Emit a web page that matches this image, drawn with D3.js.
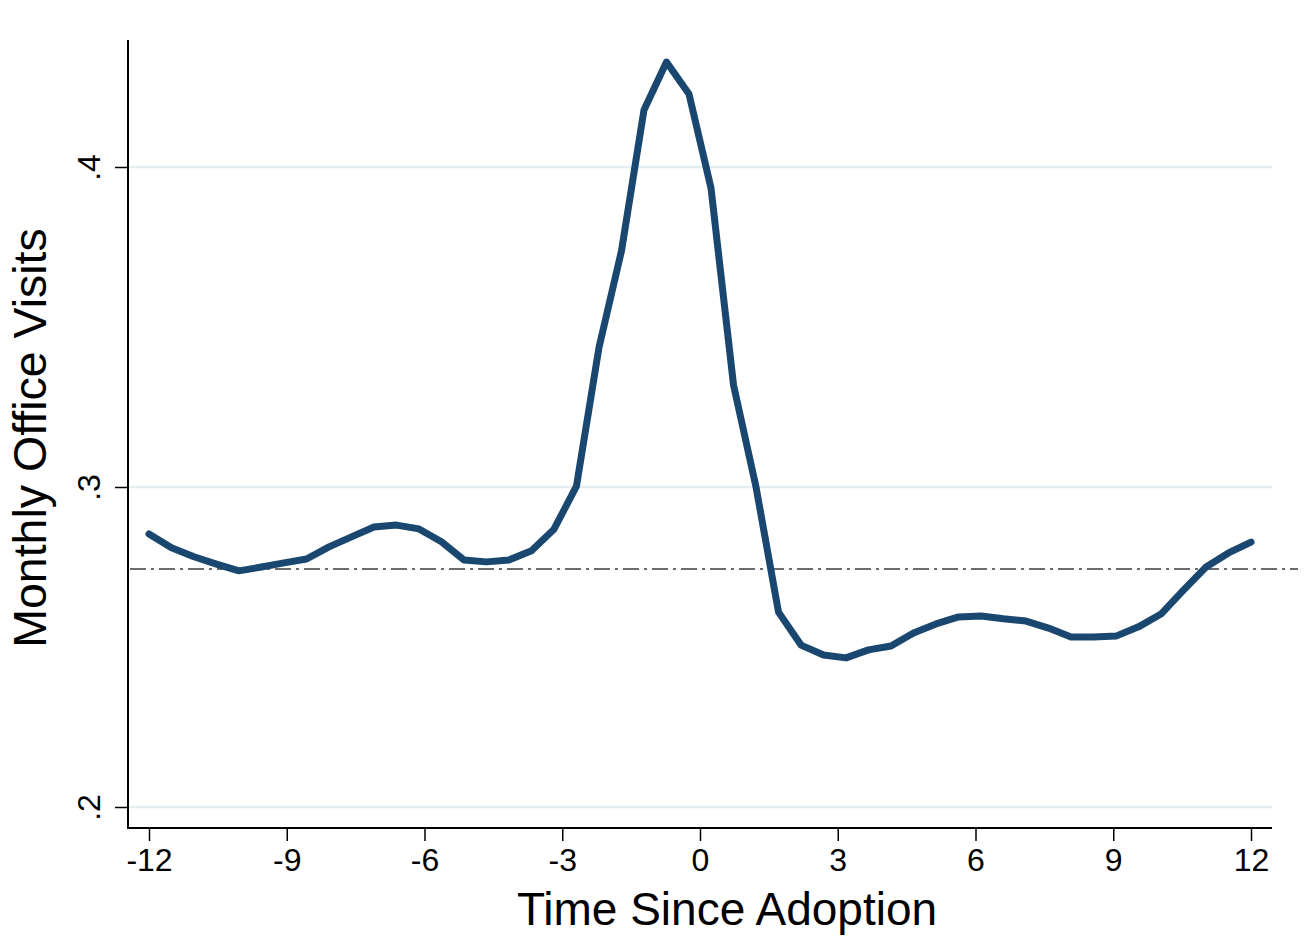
<!DOCTYPE html>
<html>
<head>
<meta charset="utf-8">
<script src="https://cdn.jsdelivr.net/npm/d3@7"></script>
<style>
  html, body { margin: 0; padding: 0; background: #ffffff; }
  svg { display: block; }
  text { font-family: "Liberation Sans", Arial, sans-serif; fill: #000; }
</style>
</head>
<body>
<svg id="chart" width="1305" height="937"></svg>
<script>
// ---- data ----
const months = [
  -12.00, -11.51, -11.02, -10.53, -10.04, -9.55, -9.06, -8.57, -8.08, -7.59,
  -7.10, -6.61, -6.12, -5.63, -5.14, -4.65, -4.16, -3.67, -3.18, -2.69,
  -2.20, -1.71, -1.22, -0.73, -0.24, 0.24, 0.73, 1.22, 1.71, 2.20,
  2.69, 3.18, 3.67, 4.16, 4.65, 5.14, 5.63, 6.12, 6.61, 7.10,
  7.59, 8.08, 8.57, 9.06, 9.55, 10.04, 10.53, 11.02, 11.51, 12.00
];
const visits = [
  0.2853, 0.2810, 0.2782, 0.2759, 0.2738, 0.2750, 0.2763, 0.2775, 0.2813, 0.2844,
  0.2875, 0.2881, 0.2869, 0.2829, 0.2772, 0.2766, 0.2772, 0.2801, 0.2868, 0.3003,
  0.3436, 0.3738, 0.4178, 0.4328, 0.4228, 0.3934, 0.3319, 0.3000, 0.2609, 0.2506,
  0.2475, 0.2466, 0.2491, 0.2503, 0.2544, 0.2572, 0.2594, 0.2597, 0.2588, 0.2581,
  0.2559, 0.2531, 0.2531, 0.2534, 0.2563, 0.2603, 0.2678, 0.2750, 0.2794, 0.2828
];
const xTicks = [-12, -9, -6, -3, 0, 3, 6, 9, 12];
const yTicks = [0.2, 0.3, 0.4];
const yTickLabels = [".2", ".3", ".4"];
const refLine = 0.2744;
const xTitle = "Time Since Adoption";
const yTitle = "Monthly Office Visits";

// ---- layout ----
const svg = d3.select("#chart");
const plotLeft = 128, plotRight = 1272, plotTop = 40, plotBottom = 828;

const x = d3.scaleLinear().domain([-12, 12]).range([149, 1251]);
const y = d3.scaleLinear().domain([0.2, 0.4]).range([807, 167]);

// gridlines
svg.append("g").selectAll("line").data(yTicks).join("line")
  .attr("x1", plotLeft).attr("x2", plotRight)
  .attr("y1", d => y(d)).attr("y2", d => y(d))
  .attr("stroke", "#e4eef0").attr("stroke-width", 2.5);

// reference line (dash-dot)
svg.append("line")
  .attr("x1", plotLeft + 2).attr("x2", 1298)
  .attr("y1", y(refLine)).attr("y2", y(refLine))
  .attr("stroke", "#6b6b6b").attr("stroke-width", 2)
  .attr("stroke-dasharray", "16,5,3,5");

// data line
const line = d3.line().x((d, i) => x(months[i])).y(d => y(d));
svg.append("path")
  .datum(visits)
  .attr("d", line)
  .attr("fill", "none")
  .attr("stroke", "#1a476f")
  .attr("stroke-width", 7)
  .attr("stroke-linejoin", "round")
  .attr("stroke-linecap", "round");

// x axis
const xAxis = d3.axisBottom(x).tickValues(xTicks).tickSize(13).tickPadding(6)
  .tickFormat(d => String(d));
const gx = svg.append("g").attr("transform", `translate(0,${plotBottom})`).call(xAxis);
gx.select(".domain").remove();
gx.selectAll(".tick line").attr("stroke", "#000").attr("stroke-width", 1.5);
gx.selectAll(".tick text").attr("font-size", 32).attr("font-family", "Liberation Sans, Arial, sans-serif")
  .attr("fill", "#000").attr("dy", "0.75em");
svg.append("line").attr("x1", plotLeft).attr("x2", plotRight)
  .attr("y1", plotBottom).attr("y2", plotBottom)
  .attr("stroke", "#000").attr("stroke-width", 2);

// y axis
const yAxis = d3.axisLeft(y).tickValues(yTicks).tickSize(13)
  .tickFormat((d, i) => yTickLabels[i]);
const gy = svg.append("g").attr("transform", `translate(${plotLeft},0)`).call(yAxis);
gy.select(".domain").remove();
gy.selectAll(".tick line").attr("stroke", "#000").attr("stroke-width", 1.5);
gy.selectAll(".tick text")
  .attr("font-size", 32).attr("font-family", "Liberation Sans, Arial, sans-serif").attr("fill", "#000")
  .attr("x", null).attr("dy", null)
  .attr("text-anchor", "middle")
  .attr("transform", "translate(-28,0) rotate(-90)");
svg.append("line").attr("x1", plotLeft).attr("x2", plotLeft)
  .attr("y1", plotTop).attr("y2", plotBottom + 1)
  .attr("stroke", "#000").attr("stroke-width", 2);

// titles
svg.append("text").attr("x", 727).attr("y", 925)
  .attr("text-anchor", "middle").attr("font-size", 46).text(xTitle);
svg.append("text")
  .attr("transform", "translate(46,438) rotate(-90)")
  .attr("text-anchor", "middle").attr("font-size", 46.5).text(yTitle);
</script>
</body>
</html>
